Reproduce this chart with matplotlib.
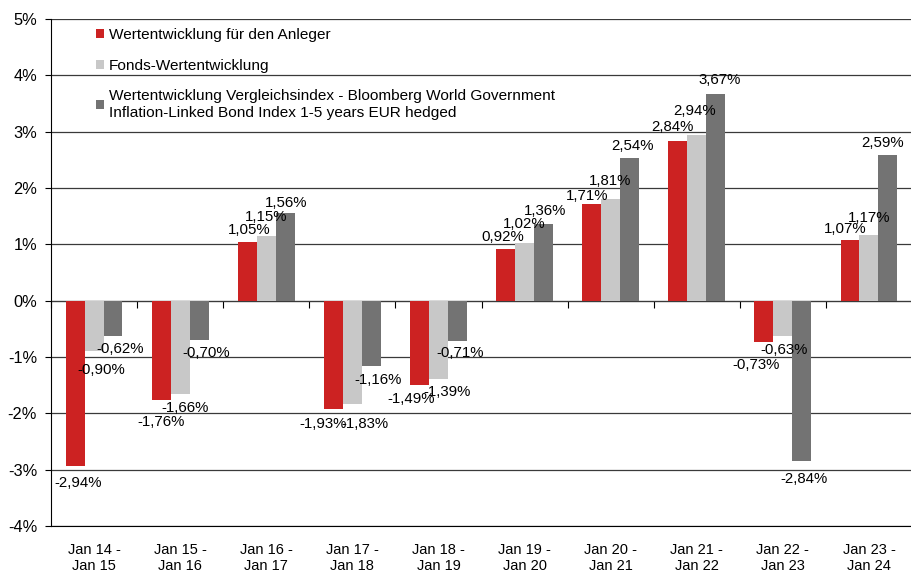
import matplotlib
matplotlib.use("Agg")
import matplotlib.pyplot as plt
import numpy as np

plt.rcParams['font.family'] = ['Liberation Sans', 'DejaVu Sans']

categories = ["Jan 14 -\nJan 15", "Jan 15 -\nJan 16", "Jan 16 -\nJan 17", "Jan 17 -\nJan 18",
              "Jan 18 -\nJan 19", "Jan 19 -\nJan 20", "Jan 20 -\nJan 21", "Jan 21 -\nJan 22",
              "Jan 22 -\nJan 23", "Jan 23 -\nJan 24"]
anleger = [-2.94, -1.76, 1.05, -1.93, -1.49, 0.92, 1.71, 2.84, -0.73, 1.07]
fonds = [-0.90, -1.66, 1.15, -1.83, -1.39, 1.02, 1.81, 2.94, -0.63, 1.17]
index = [-0.62, -0.70, 1.56, -1.16, -0.71, 1.36, 2.54, 3.67, -2.84, 2.59]
series_names = ["Wertentwicklung für den Anleger",
                "Fonds-Wertentwicklung",
                "Wertentwicklung Vergleichsindex - Bloomberg World Government\nInflation-Linked Bond Index 1-5 years EUR hedged"]
y_ticks = [-4, -3, -2, -1, 0, 1, 2, 3, 4, 5]

colors = ["#CC2222", "#C8C8C8", "#737373"]

# label nudges in pixels (dx right, dy down from bar end), like the original's placement
label_dx = [[3, 0, 1.5, -10.5, -8, -3, -5, -5.5, -8, -4.5],
            [7.5, 5, 0, 12.5, 9, 0, -1, -2.5, 1, 0],
            [7.5, 7.5, 1, 7, 3, 2, 2.5, 3.5, 2.5, -5]]
label_dy = [[17, 22, -12, 15, 14, -12, -8, -14, 23, -11],
            [19, 14, -19, 20, 13, -19, -18, -24, 14, -17],
            [13, 13, -10, 14, 12, -13, -12, -14, 18, -12]]

fig = plt.figure(figsize=(9.12, 5.74), dpi=100)
ax = fig.add_axes([51 / 912, 1 - 526 / 574, 861 / 912, (526 - 19) / 574])

x = np.arange(len(categories))
w = 0.22
px = 72 / fig.dpi
for i, (vals, c, name) in enumerate(zip([anleger, fonds, index], colors, series_names)):
    bars = ax.bar(x + (i - 1) * w, vals, width=w, color=c, label=name, zorder=3)
    for j, (b, v) in enumerate(zip(bars, vals)):
        txt = f"{v:.2f}".replace(".", ",") + "%"
        ax.annotate(txt, (b.get_x() + b.get_width() / 2, v),
                    xytext=(label_dx[i][j] * px, -label_dy[i][j] * px),
                    textcoords="offset points", ha="center", va="center",
                    fontsize=10.8, zorder=4)

ymin, ymax = -4, 5
ax.set_ylim(ymin, ymax)
ax.set_xlim(-0.5, len(categories) - 0.5)
ax.set_yticks(y_ticks)
ax.set_yticklabels([f"{t}%" for t in y_ticks], fontsize=11.8)
ax.yaxis.grid(True, color="#3a3a3a", lw=0.9, zorder=0)
ax.tick_params(axis="y", length=4, pad=6, color="black")
ax.set_xticks(x)
ax.set_xticklabels(categories, fontsize=10.5, linespacing=1.25)
ax.tick_params(axis="x", length=0, pad=12)
for s in ["top", "right"]:
    ax.spines[s].set_visible(False)
ax.spines["left"].set_color("black")
ax.spines["bottom"].set_color("black")

# category boundary ticks on the 0% line
sec = ax.secondary_xaxis((0 - ymin) / (ymax - ymin))
sec.set_xticks(np.arange(len(categories) + 1) - 0.5)
sec.set_xticklabels([])
sec.tick_params(axis="x", direction="out", length=5, color="black")
sec.spines["bottom"].set_color("black")

ax.legend(loc="upper left", bbox_to_anchor=(0.052, 0.982), frameon=False,
          fontsize=11.1, handlelength=0.55, handleheight=0.55, handletextpad=0.3,
          labelspacing=1.08, borderaxespad=0, borderpad=0)

fig.savefig("out.png", dpi=100)
